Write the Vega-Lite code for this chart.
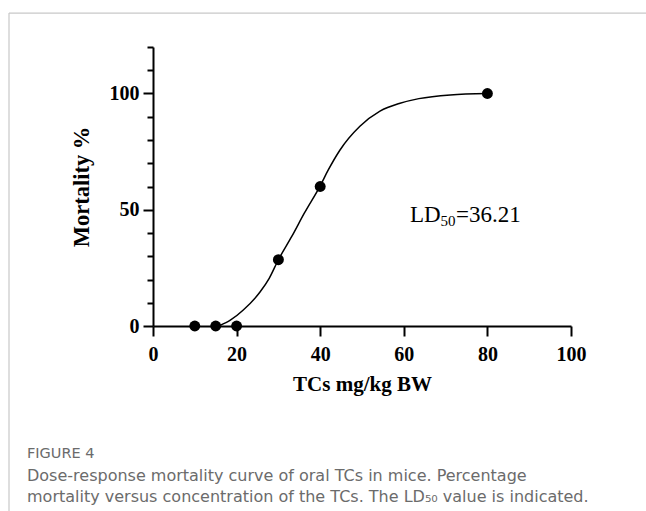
{
  "$schema": "https://vega.github.io/schema/vega-lite/v6.json",
  "autosize": {"type": "none"},
  "padding": {"left": 153, "top": 47, "right": 75, "bottom": 185},
  "width": 418,
  "height": 279,
  "background": "white",
  "config": {"view": {"stroke": null}},
  "title": {
    "text": "FIGURE 4",
    "subtitle": ["Dose-response mortality curve of oral TCs in mice. Percentage", "mortality versus concentration of the TCs. The LD₅₀ value is indicated."],
    "orient": "bottom",
    "anchor": "start",
    "frame": "group",
    "dx": -126,
    "offset": -65,
    "font": "DejaVu Sans",
    "fontSize": 14.5,
    "fontWeight": "normal",
    "color": "#6b6b6b",
    "subtitleFont": "DejaVu Sans",
    "subtitleFontSize": 16,
    "subtitleColor": "#6b6b6b",
    "subtitleLineHeight": 21,
    "subtitlePadding": 7
  },
  "resolve": {"axis": {"x": "independent", "y": "independent"}},
  "datasets": {
    "curve": [
      {"dose": 16.0, "mortality": 0.2},
      {"dose": 18.5, "mortality": 2.5},
      {"dose": 21.6, "mortality": 6.9},
      {"dose": 25.6, "mortality": 14.6},
      {"dose": 27.8, "mortality": 20.5},
      {"dose": 30.0, "mortality": 28.5},
      {"dose": 33.2, "mortality": 38.5},
      {"dose": 36.2, "mortality": 48.5},
      {"dose": 40.0, "mortality": 60.3},
      {"dose": 41.9, "mortality": 67.0},
      {"dose": 44.7, "mortality": 75.6},
      {"dose": 49.5, "mortality": 85.9},
      {"dose": 54.3, "mortality": 92.4},
      {"dose": 59.1, "mortality": 95.8},
      {"dose": 63.6, "mortality": 97.8},
      {"dose": 71.1, "mortality": 99.4},
      {"dose": 80.0, "mortality": 100.0}
    ],
    "observed": [
      {"dose": 10, "mortality": 0},
      {"dose": 15, "mortality": 0},
      {"dose": 20, "mortality": 0},
      {"dose": 30, "mortality": 28.5},
      {"dose": 40, "mortality": 60},
      {"dose": 80, "mortality": 100}
    ],
    "note": [{"dose": 61.5, "mortality": 44.8}]
  },
  "layer": [
    {
      "data": {"name": "curve"},
      "mark": {"type": "line", "interpolate": "monotone", "color": "black", "strokeWidth": 1.5},
      "encoding": {
        "x": {
          "field": "dose", "type": "quantitative",
          "scale": {"domain": [0, 100], "nice": false, "zero": false},
          "axis": {
            "values": [0, 20, 40, 60, 80, 100],
            "title": "TCs  mg/kg BW",
            "grid": false,
            "domainColor": "black", "domainWidth": 2,
            "tickColor": "black", "tickWidth": 2, "tickSize": 10,
            "labelFont": "Liberation Serif", "labelFontWeight": "bold", "labelFontSize": 20, "labelColor": "black",
            "labelPadding": 8, "labelFlush": false, "labelOverlap": false,
            "titleFont": "Liberation Serif", "titleFontWeight": "bold", "titleFontSize": 21, "titleColor": "black",
            "titlePadding": 9
          }
        },
        "y": {
          "field": "mortality", "type": "quantitative",
          "scale": {"domain": [0, 120], "nice": false, "zero": false},
          "axis": {
            "orient": "left",
            "values": [0, 50, 100],
            "title": "Mortality %",
            "grid": false,
            "domainColor": "black", "domainWidth": 2,
            "tickColor": "black", "tickWidth": 2, "tickSize": 10,
            "labelFont": "Liberation Serif", "labelFontWeight": "bold", "labelFontSize": 20, "labelColor": "black",
            "labelPadding": 4, "labelFlush": false, "labelOverlap": false,
            "titleFont": "Liberation Serif", "titleFontWeight": "bold", "titleFontSize": 22.5, "titleColor": "black",
            "titlePadding": 16
          }
        }
      }
    },
    {
      "data": {"name": "observed"},
      "mark": {"type": "point", "filled": true, "color": "black", "opacity": 1, "size": 120},
      "encoding": {
        "x": {"field": "dose", "type": "quantitative", "axis": null},
        "y": {
          "field": "mortality", "type": "quantitative",
          "axis": {
            "orient": "left",
            "values": [10, 20, 30, 40, 60, 70, 80, 90, 110, 120],
            "title": null,
            "labels": false,
            "domain": false,
            "grid": false,
            "tickColor": "black", "tickWidth": 2, "tickSize": 6
          }
        }
      }
    },
    {
      "data": {"name": "note"},
      "mark": {"type": "text", "font": "Liberation Serif", "fontSize": 23, "align": "left", "baseline": "alphabetic", "color": "black"},
      "encoding": {
        "x": {"field": "dose", "type": "quantitative", "axis": null},
        "y": {"field": "mortality", "type": "quantitative", "axis": null},
        "text": {"value": "LD"}
      }
    },
    {
      "data": {"name": "note"},
      "mark": {"type": "text", "font": "Liberation Serif", "fontSize": 15, "align": "left", "baseline": "alphabetic", "color": "black", "dx": 30.5, "dy": 4},
      "encoding": {
        "x": {"field": "dose", "type": "quantitative", "axis": null},
        "y": {"field": "mortality", "type": "quantitative", "axis": null},
        "text": {"value": "50"}
      }
    },
    {
      "data": {"name": "note"},
      "mark": {"type": "text", "font": "Liberation Serif", "fontSize": 23, "align": "left", "baseline": "alphabetic", "color": "black", "dx": 46},
      "encoding": {
        "x": {"field": "dose", "type": "quantitative", "axis": null},
        "y": {"field": "mortality", "type": "quantitative", "axis": null},
        "text": {"value": "=36.21"}
      }
    },
    {
      "data": {"values": [{}]},
      "mark": {"type": "rule", "color": "#c8c8c8", "strokeWidth": 1.2},
      "encoding": {
        "x": {"datum": -34.45, "axis": null},
        "y": {"datum": 134.6, "axis": null},
        "y2": {"datum": -79.6}
      }
    },
    {
      "data": {"values": [{}]},
      "mark": {"type": "rule", "color": "#c8c8c8", "strokeWidth": 1.2},
      "encoding": {
        "x": {"datum": -34.45, "axis": null},
        "x2": {"datum": 118},
        "y": {"datum": 134.6, "axis": null}
      }
    }
  ]
}
